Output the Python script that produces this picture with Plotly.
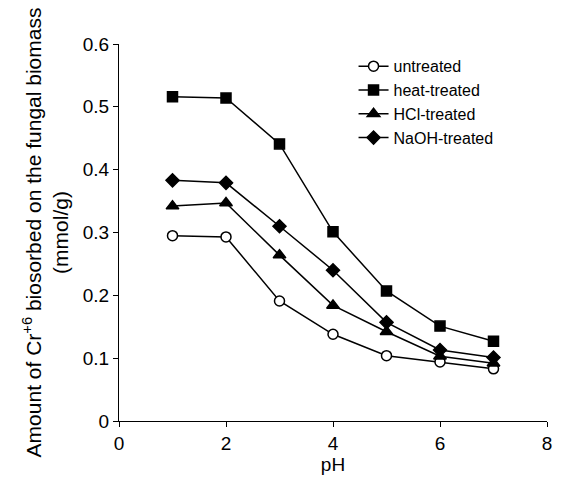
import plotly.graph_objects as go

ph = [1, 2, 3, 4, 5, 6, 7]
untreated = [0.295, 0.293, 0.191, 0.138, 0.104, 0.094, 0.083]
heat_treated = [0.516, 0.514, 0.441, 0.301, 0.207, 0.151, 0.127]
hcl_treated = [0.342, 0.347, 0.264, 0.184, 0.142, 0.103, 0.092]
naoh_treated = [0.383, 0.379, 0.310, 0.240, 0.157, 0.113, 0.101]

series = [
    ("untreated", untreated, "circle", "white", 10),
    ("heat-treated", heat_treated, "square", "black", 10),
    ("HCl-treated", hcl_treated, "triangle-up", "black", 11),
    ("NaOH-treated", naoh_treated, "diamond", "black", 10),
]

fig = go.Figure()
for name, vals, sym, fill, sz in series:
    fig.add_trace(go.Scatter(
        x=ph, y=vals, name=name, mode="lines+markers",
        line=dict(color="black", width=1.5),
        marker=dict(symbol=sym, size=sz, color=fill, line=dict(color="black", width=1.5)),
    ))

font = "Liberation Sans, Arial, sans-serif"
fig.update_layout(
    width=553, height=473,
    margin=dict(l=111, r=9, t=36, b=60),
    paper_bgcolor="white", plot_bgcolor="white",
    font=dict(family=font, size=19, color="black"),
    showlegend=True,
    legend=dict(x=0.548, y=0.986, xanchor="left", yanchor="top",
                font=dict(size=16), bgcolor="rgba(0,0,0,0)",
                itemwidth=30),
    xaxis=dict(range=[0, 8], tickvals=[0, 2, 4, 6, 8], showline=True, linecolor="black",
               linewidth=1, ticks="outside", ticklen=5, tickcolor="black",
               showgrid=False, zeroline=False, ticklabeloverflow="allow",
               title=dict(text="pH", font=dict(size=19), standoff=4)),
    yaxis=dict(range=[0, 0.6], tickvals=[0, 0.1, 0.2, 0.3, 0.4, 0.5, 0.6],
               ticktext=["0", "0.1", "0.2", "0.3", "0.4", "0.5", "0.6"],
               showline=True, linecolor="black", linewidth=1, ticks="outside",
               ticklen=5, tickcolor="black", showgrid=False, zeroline=False,
               title=dict(text="Amount of Cr<sup>+6</sup> biosorbed on the fungal biomass<br>(mmol/g)",
                          font=dict(size=21), standoff=8)),
)

fig.write_html("out.html")
